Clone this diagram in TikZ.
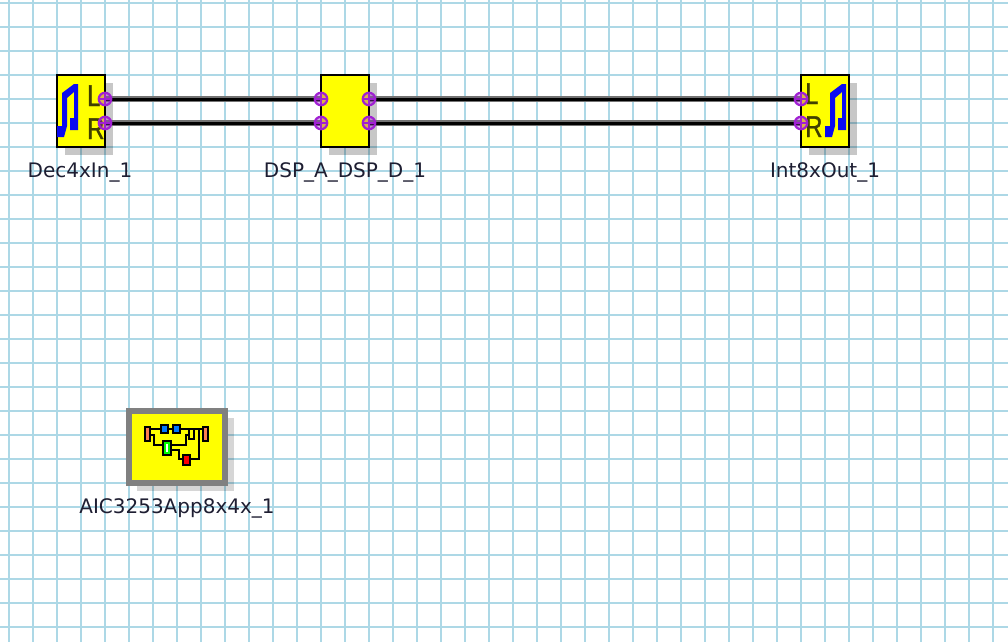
\documentclass[tikz,border=0pt]{standalone}
\usepackage{fontspec}
\setmainfont{DejaVu Sans}
\newfontfamily\letterfont[FakeBold=1.2]{Liberation Sans}
\definecolor{gridblue}{RGB}{173,216,230}
\definecolor{blockyellow}{RGB}{255,255,0}
\definecolor{portpurple}{RGB}{160,32,210}
\definecolor{framegray}{RGB}{128,128,128}
\definecolor{lettercol}{RGB}{64,64,0}
\definecolor{notecol}{RGB}{10,10,240}
\definecolor{labelcol}{RGB}{30,30,50}
\definecolor{iconorange}{RGB}{255,128,80}
\definecolor{iconblue}{RGB}{0,120,255}
\tikzset{
  x=1pt,y=-1pt,
  gridline/.style={draw=gridblue,line width=2.2pt},
  blockbox/.style={draw=black,line width=2pt,fill=blockyellow,minimum width=48pt,minimum height=72pt,inner sep=0pt,outer sep=0pt,anchor=north west},
  shadowbox/.style={fill=black,fill opacity=0.22,draw=none},
  lightshadow/.style={fill=black,fill opacity=0.16,draw=none},
  wirecase/.style={draw=black!55,line width=5.5pt},
  wirecore/.style={draw=black,line width=3pt},
  portdot/.style={circle,draw=portpurple,line width=2.2pt,minimum size=12.5pt,inner sep=0pt,fill=portpurple,fill opacity=0.35,draw opacity=1,path picture={
    \draw[portpurple,line width=2pt,opacity=1] (path picture bounding box.north) -- (path picture bounding box.south);
    \draw[portpurple,line width=2pt,opacity=1] (path picture bounding box.west) -- (path picture bounding box.east);}},
  blocklabel/.style={text=labelcol,font=\fontsize{20}{22}\selectfont,anchor=base,inner sep=0pt},
  letter/.style={text=lettercol,font=\letterfont\fontsize{30}{30}\selectfont,anchor=base west,inner sep=0pt,xscale=0.8},
  notefill/.style={fill=notecol,draw=none},
  iconwire/.style={draw=black,line width=2.2pt},
  iconbox/.style={draw=black,line width=2.4pt},
}
\newcommand{\notepath}[1]{%
  \fill[notefill,shift={(#1,0)}] (57,137) -- (57,126) -- (62,126) -- (62,93) -- (74,84) -- (78,84) -- (78,130) -- (70,130) -- (70,118) -- (74,118) -- (74,92) -- (67,98) -- (67,126) -- (64,137) -- cycle;}
\begin{document}
\begin{tikzpicture}
\useasboundingbox (0,0) rectangle (1008,642);
\fill[white] (0,0) rectangle (1008,642);
\foreach \gx in {0,...,41} {\draw[gridline] ({9+24*\gx},0) -- ({9+24*\gx},642);}
\foreach \gy in {0,...,26} {\draw[gridline] (0,{3+24*\gy}) -- (1008,{3+24*\gy});}

% shadows
\fill[shadowbox] (65,83) rectangle (113,155);
\fill[shadowbox] (329,83) rectangle (377,155);
\fill[shadowbox] (809,83) rectangle (857,155);
\fill[lightshadow] (137,418) rectangle (234,491);

% blocks
\node[blockbox] (dec) at (57,75) {};
\node[blockbox] (dsp) at (321,75) {};
\node[blockbox] (int) at (801,75) {};
\node[draw=framegray,line width=6pt,fill=blockyellow,minimum width=96pt,minimum height=72pt,inner sep=0pt,outer sep=0pt,anchor=north west] (app) at (129,411) {};

% port anchors
\coordinate (decL) at (105,99);
\coordinate (decR) at (105,123);
\coordinate (dspLi) at (321,99);
\coordinate (dspRi) at (321,123);
\coordinate (dspLo) at (369,99);
\coordinate (dspRo) at (369,123);
\coordinate (intL) at (801,99);
\coordinate (intR) at (801,123);

% wires
\foreach \pa/\pb in {decL/dspLi,decR/dspRi,dspLo/intL,dspRo/intR} {
  \draw[wirecase] (\pa) -- (\pb);
  \draw[wirecore] (\pa) -- (\pb);
}

% letters and notes
\notepath{0}
\notepath{768}
\node[letter] (decLl) at (87,106) {L};
\node[letter] (decRl) at (87,139) {R};
\node[letter] (intLl) at (805,104) {L};
\node[letter] (intRl) at (805,137) {R};

% ports
\foreach \p in {decL,decR,dspLi,dspRi,dspLo,dspRo,intL,intR} {
  \node[portdot] (\p dot) at (\p) {};
}

% labels
\node[blocklabel] (decT) at (80,177) {Dec4xIn\_1};
\node[blocklabel] (dspT) at (345,177) {DSP\_A\_DSP\_D\_1};
\node[blocklabel] (intT) at (825,177) {Int8xOut\_1};
\node[blocklabel] (appT) at (177,513) {AIC3253App8x4x\_1};

% application icon
\draw[iconwire] (150,429) -- (202,429);
\draw[iconwire] (150,435) -- (154,435) -- (154,445) -- (186,445) -- (186,435) -- (190,435);
\draw[iconwire] (171,450) -- (179,450) -- (179,459) -- (199,459) -- (199,430);
\draw[iconbox,fill=iconorange] (145,427) rectangle (150,441);
\draw[iconbox,fill=iconorange] (203,427) rectangle (208,441);
\draw[iconbox,fill=iconblue] (161,425) rectangle (168,433);
\draw[iconbox,fill=iconblue] (173,425) rectangle (180,433);
\draw[iconbox,fill=blockyellow] (189,429) rectangle (194,439);
\draw[iconbox,fill=green] (163,441) rectangle (171,455);
\fill[white] (165.7,444) rectangle (168.3,452);
\draw[iconbox,fill=red] (183,455) rectangle (190,465);
\end{tikzpicture}
\end{document}
